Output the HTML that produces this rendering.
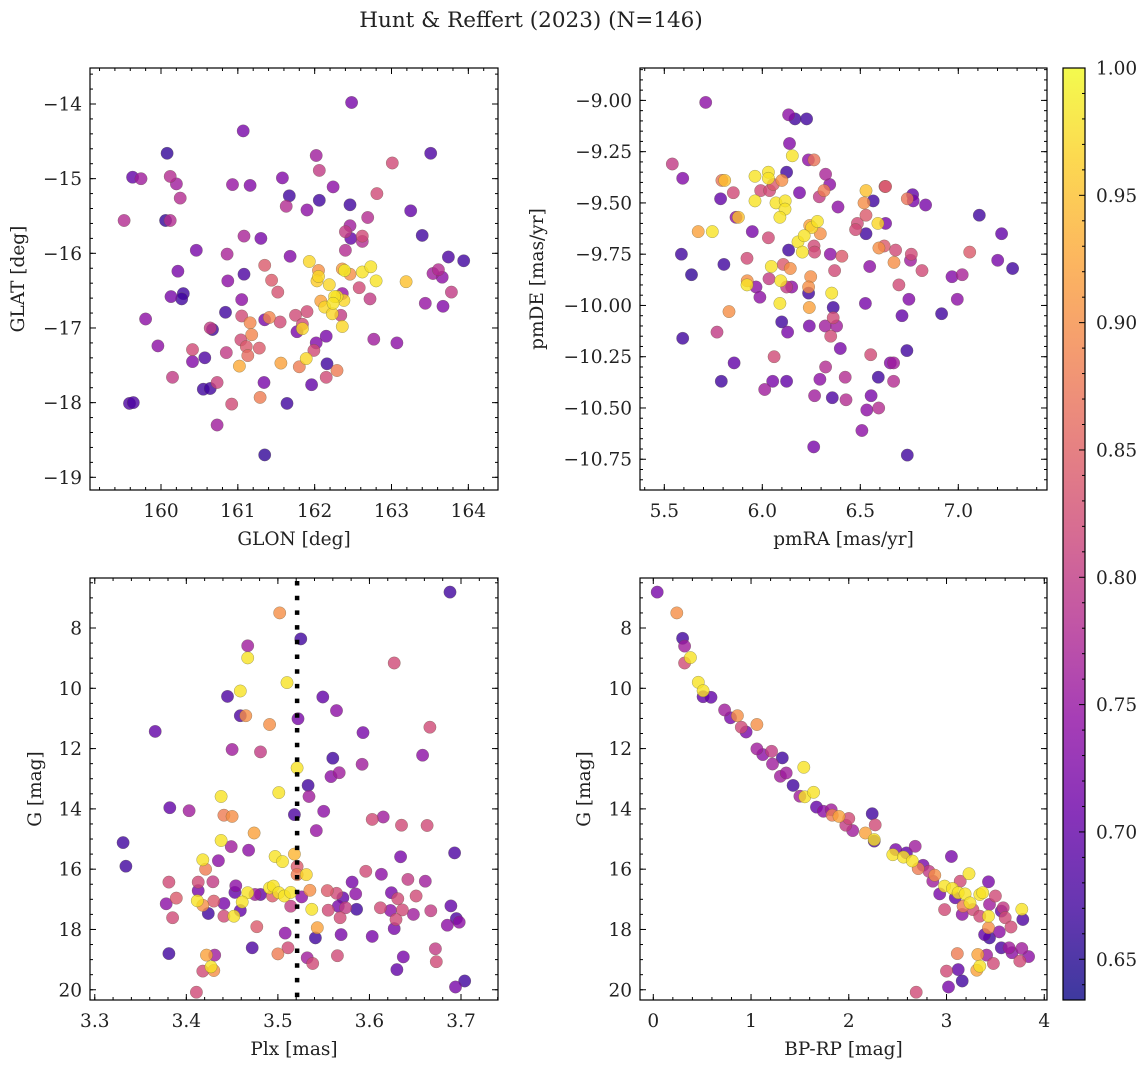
<!DOCTYPE html>
<html><head><meta charset="utf-8"><title>Hunt &amp; Reffert (2023)</title>
<style>
html,body{margin:0;padding:0;background:#fff;}
svg{display:block;font-family:"DejaVu Serif","Liberation Serif",serif;}
</style></head>
<body>
<svg id="fig" width="1148" height="1067" viewBox="0 0 1148 1067" xmlns="http://www.w3.org/2000/svg">
<defs>
<linearGradient id="plasma" x1="0" y1="1" x2="0" y2="0">
<stop offset="0" stop-color="#5302a3"/>
</linearGradient>
</defs>
<text x="531" y="27" font-size="21.5" text-anchor="middle" fill="#222">Hunt &amp; Reffert (2023) (N=146)</text>
</svg>
<script>
// ---------- Panel 1 data: GLON / GLAT ----------
const glon=[162.48,161.07,160.08,163.51,162.02,159.63,159.74,160.12,160.20,160.93,161.16,161.58,162.06,163.01,160.25,161.67,162.06,162.24,162.81,161.63,161.90,162.46,163.25,159.52,160.06,160.12,162.69,162.46,162.40,162.62,162.47,162.62,163.40,161.08,161.30,160.46,160.86,161.68,162.40,163.74,163.94,161.93,161.35,160.22,161.08,162.05,162.05,162.03,162.36,162.39,162.46,162.62,162.73,162.80,163.19,163.54,163.61,163.66,160.87,161.44,162.19,161.52,162.58,163.78,160.13,160.29,160.27,161.05,162.36,162.29,162.26,162.08,162.13,162.24,162.38,162.23,162.34,162.72,163.44,163.67,159.80,160.84,161.05,161.16,161.35,161.41,161.55,161.75,161.90,161.84,161.84,161.77,162.36,160.64,160.67,161.18,161.04,161.11,161.28,161.13,162.02,162.15,161.99,159.96,160.41,160.41,160.57,160.85,161.02,161.56,161.89,161.80,162.16,162.29,162.15,162.77,163.07,160.15,160.55,160.64,160.73,161.34,161.96,159.59,159.64,160.92,161.29,161.64,160.73,161.35];
const glat=[-13.98,-14.36,-14.66,-14.66,-14.69,-14.98,-15.00,-14.97,-15.07,-15.08,-15.09,-14.99,-14.89,-14.79,-15.26,-15.23,-15.29,-15.11,-15.20,-15.37,-15.42,-15.35,-15.43,-15.56,-15.56,-15.56,-15.52,-15.63,-15.71,-15.77,-15.80,-15.84,-15.76,-15.77,-15.80,-15.96,-16.01,-16.04,-15.96,-16.05,-16.10,-16.11,-16.16,-16.24,-16.28,-16.23,-16.31,-16.37,-16.21,-16.23,-16.28,-16.25,-16.18,-16.37,-16.38,-16.27,-16.22,-16.32,-16.37,-16.36,-16.42,-16.52,-16.46,-16.52,-16.58,-16.54,-16.61,-16.62,-16.54,-16.58,-16.58,-16.64,-16.72,-16.67,-16.63,-16.81,-16.83,-16.61,-16.67,-16.71,-16.88,-16.79,-16.84,-16.93,-16.89,-16.86,-16.92,-16.83,-16.78,-16.95,-17.01,-17.05,-16.98,-17.00,-17.02,-17.09,-17.16,-17.25,-17.27,-17.37,-17.20,-17.11,-17.30,-17.24,-17.29,-17.45,-17.40,-17.33,-17.51,-17.47,-17.41,-17.52,-17.48,-17.57,-17.66,-17.15,-17.20,-17.66,-17.82,-17.81,-17.73,-17.73,-17.76,-18.01,-18.00,-18.02,-17.93,-18.01,-18.30,-18.70];
const prob1=[.72,.72,.66,.68,.76,.70,.76,.78,.76,.75,.73,.73,.80,.82,.78,.67,.67,.74,.82,.78,.74,.67,.70,.78,.66,.78,.78,.76,.80,.82,.70,.78,.67,.77,.72,.72,.77,.73,.78,.68,.67,.97,.84,.72,.68,.90,.97,.96,.91,.99,.90,.98,.98,.98,.95,.76,.78,.74,.74,.84,.97,.83,.82,.80,.72,.67,.67,.74,.75,.98,.98,.92,.97,.98,.97,.97,.80,.80,.75,.73,.74,.67,.82,.89,.72,.89,.82,.82,.82,.82,.97,.72,.97,.80,.67,.89,.82,.84,.84,.86,.73,.72,.82,.74,.82,.73,.68,.80,.93,.92,.97,.88,.67,.88,.82,.76,.74,.80,.67,.67,.81,.72,.70,.68,.68,.82,.88,.67,.76,.66];

// ---------- Panel 2 data: pmRA / pmDE ----------
const pmra=[5.711,6.134,6.167,6.226,6.139,6.153,6.235,6.264,5.541,5.594,5.794,5.808,5.852,5.787,5.963,6.031,6.031,6.124,6.100,6.056,5.992,6.037,5.963,6.070,6.117,6.116,6.090,6.190,6.323,6.344,6.315,6.291,6.386,6.529,6.519,6.566,6.629,6.626,6.767,6.770,6.740,6.833,7.107,6.529,6.485,6.476,6.529,6.629,6.590,5.878,5.866,5.673,5.745,5.949,6.031,6.134,6.182,6.214,6.252,6.281,6.242,6.296,6.204,6.264,6.267,6.347,6.406,6.369,6.595,6.622,6.680,6.760,6.756,6.672,6.815,6.548,7.058,7.221,7.201,7.277,6.968,7.020,5.587,5.639,5.804,5.922,6.046,6.107,6.143,6.034,5.923,5.922,5.968,6.094,6.124,6.150,6.247,6.236,6.236,6.354,5.988,6.090,6.240,6.362,6.697,6.748,6.526,6.995,6.915,6.713,5.830,6.099,6.129,6.240,6.321,6.379,6.362,6.349,5.594,5.769,6.398,6.738,6.553,6.060,5.856,6.323,6.653,6.670,5.791,6.053,6.124,6.012,6.294,6.423,6.592,6.670,6.267,6.357,6.427,6.555,6.533,6.594,6.508,6.262,6.740];
const pmde=[-9.01,-9.07,-9.09,-9.09,-9.21,-9.27,-9.29,-9.29,-9.31,-9.38,-9.39,-9.39,-9.45,-9.48,-9.37,-9.35,-9.38,-9.35,-9.39,-9.41,-9.44,-9.44,-9.49,-9.50,-9.49,-9.53,-9.57,-9.45,-9.36,-9.41,-9.44,-9.47,-9.52,-9.44,-9.50,-9.49,-9.42,-9.42,-9.46,-9.49,-9.48,-9.51,-9.56,-9.56,-9.60,-9.63,-9.65,-9.60,-9.60,-9.57,-9.57,-9.64,-9.64,-9.64,-9.67,-9.73,-9.69,-9.66,-9.62,-9.59,-9.61,-9.65,-9.74,-9.71,-9.74,-9.75,-9.76,-9.83,-9.72,-9.71,-9.73,-9.75,-9.78,-9.79,-9.83,-9.81,-9.74,-9.65,-9.78,-9.82,-9.86,-9.85,-9.75,-9.85,-9.80,-9.77,-9.81,-9.80,-9.82,-9.87,-9.88,-9.90,-9.91,-9.88,-9.91,-9.91,-9.86,-9.91,-9.94,-9.94,-9.96,-9.99,-10.01,-10.01,-9.90,-9.97,-9.99,-9.97,-10.04,-10.05,-10.03,-10.08,-10.13,-10.10,-10.10,-10.10,-10.06,-10.15,-10.16,-10.13,-10.21,-10.22,-10.24,-10.25,-10.28,-10.30,-10.28,-10.28,-10.37,-10.37,-10.37,-10.41,-10.36,-10.35,-10.35,-10.37,-10.44,-10.45,-10.46,-10.44,-10.51,-10.50,-10.61,-10.69,-10.73];
const prob2=[.74,.74,.67,.67,.73,.98,.74,.87,.80,.73,.87,.95,.82,.70,.98,.98,.98,.67,.90,.84,.82,.82,.98,.98,.98,.98,.98,.72,.77,.74,.88,.80,.74,.95,.90,.67,.84,.82,.70,.72,.87,.72,.67,.84,.82,.82,.67,.72,.97,.95,.74,.92,.98,.72,.82,.67,.98,.98,.97,.98,.92,.90,.98,.82,.82,.74,.84,.82,.90,.84,.82,.82,.76,.90,.82,.74,.84,.70,.72,.67,.73,.77,.67,.66,.67,.82,.98,.84,.90,.80,.90,.98,.74,.98,.80,.74,.90,.90,.67,.98,.74,.98,.92,.67,.82,.73,.72,.74,.67,.70,.90,.67,.72,.72,.76,.76,.82,.82,.67,.80,.72,.67,.82,.82,.70,.78,.73,.76,.67,.72,.70,.76,.74,.78,.67,.78,.76,.68,.78,.72,.74,.78,.74,.72,.67];

// ---------- Panel 3 data: Plx / G ----------
const plx=[3.688,3.502,3.525,3.467,3.467,3.627,3.510,3.459,3.445,3.549,3.564,3.459,3.465,3.491,3.522,3.366,3.593,3.666,3.450,3.481,3.658,3.560,3.521,3.592,3.558,3.567,3.501,3.533,3.534,3.438,3.382,3.403,3.550,3.441,3.450,3.518,3.603,3.615,3.635,3.663,3.542,3.474,3.331,3.334,3.438,3.449,3.468,3.693,3.634,3.435,3.418,3.421,3.497,3.505,3.518,3.521,3.521,3.531,3.596,3.613,3.642,3.661,3.581,3.381,3.413,3.429,3.454,3.413,3.453,3.467,3.475,3.481,3.491,3.495,3.494,3.501,3.507,3.514,3.526,3.535,3.554,3.564,3.571,3.585,3.624,3.631,3.651,3.378,3.389,3.412,3.418,3.430,3.441,3.461,3.514,3.537,3.555,3.566,3.574,3.586,3.612,3.623,3.636,3.667,3.689,3.385,3.424,3.441,3.452,3.459,3.568,3.629,3.648,3.695,3.698,3.685,3.627,3.477,3.543,3.508,3.541,3.569,3.603,3.381,3.422,3.431,3.472,3.500,3.511,3.532,3.538,3.565,3.637,3.672,3.673,3.418,3.427,3.430,3.630,3.694,3.704,3.411];
const gmag3=[6.81,7.50,8.36,8.59,8.99,9.16,9.81,10.09,10.27,10.29,10.74,10.91,10.91,11.20,11.01,11.43,11.47,11.29,12.03,12.11,12.22,12.32,12.64,12.52,12.93,12.80,13.46,13.22,13.59,13.59,13.96,14.06,14.08,14.21,14.25,14.19,14.35,14.27,14.54,14.55,14.72,14.80,15.12,15.90,15.05,15.25,15.37,15.46,15.59,15.72,15.69,16.00,15.58,15.75,15.50,15.91,16.18,16.18,16.07,16.17,16.34,16.40,16.43,16.43,16.43,16.42,16.55,16.71,16.77,16.78,16.84,16.84,16.62,16.56,16.89,16.78,16.89,16.77,16.92,16.70,16.71,16.80,16.95,16.82,16.78,16.98,16.89,17.15,16.96,17.05,17.20,17.06,17.14,17.09,17.23,17.33,17.36,17.23,17.28,17.33,17.28,17.37,17.35,17.38,17.22,17.61,17.47,17.56,17.56,17.37,17.61,17.67,17.50,17.64,17.76,17.86,17.97,17.91,17.94,18.12,18.28,18.17,18.23,18.80,18.85,18.85,18.61,18.81,18.61,18.94,19.13,18.87,18.91,18.64,19.07,19.38,19.24,19.36,19.33,19.91,19.71,20.08];
const prob3=[.67,.90,.67,.76,.98,.82,.98,.98,.68,.70,.74,.68,.90,.90,.72,.70,.72,.82,.76,.80,.74,.67,.98,.76,.74,.76,.98,.67,.76,.98,.70,.76,.74,.88,.90,.68,.82,.76,.82,.82,.75,.92,.67,.67,.98,.76,.74,.68,.72,.74,.98,.88,.98,.98,.94,.84,.88,.97,.82,.74,.80,.76,.72,.82,.82,.80,.74,.72,.70,.98,.76,.70,.98,.98,.84,.98,.98,.98,.74,.90,.84,.82,.70,.74,.72,.82,.82,.74,.84,.98,.90,.84,.72,.98,.80,.98,.82,.72,.80,.67,.82,.74,.82,.80,.70,.82,.67,.82,.98,.70,.82,.82,.76,.68,.74,.74,.72,.84,.92,.74,.67,.72,.72,.67,.92,.76,.68,.88,.82,.76,.82,.82,.72,.80,.82,.82,.98,.90,.70,.72,.67,.82];
const plxRef=[3.521];

// ---------- Panel 4 data: BP-RP / G ----------
const bprp=[0.04,0.24,0.30,0.32,0.38,0.32,0.46,0.51,0.51,0.59,0.73,0.79,0.86,0.90,0.95,1.06,1.06,1.12,1.21,1.32,1.22,1.30,1.36,1.54,1.43,1.50,1.55,1.64,1.67,1.74,1.82,1.83,1.90,2.00,1.97,2.04,2.17,2.24,2.27,2.26,2.26,2.48,2.68,3.05,2.45,2.56,2.59,2.65,2.76,2.71,2.82,2.88,2.86,2.93,2.98,3.06,3.09,3.14,3.12,3.19,3.23,3.43,3.34,3.37,3.24,3.17,3.27,3.16,2.98,3.43,3.34,3.50,3.44,3.58,3.56,3.60,3.66,3.77,3.78,3.43,3.39,3.44,3.54,3.56,3.64,3.67,3.77,3.75,3.84,3.41,3.32,3.48,3.34,3.31,3.11,3.12,3.00,3.16,3.02,2.69];
const gmag4=[6.81,7.50,8.34,8.60,8.98,9.16,9.80,10.08,10.28,10.30,10.72,10.98,10.91,11.29,11.45,11.20,12.01,12.20,12.09,12.31,12.51,12.92,12.81,12.62,13.22,13.58,13.60,13.45,13.94,14.08,14.03,14.21,14.25,14.32,14.54,14.72,14.80,14.16,14.53,15.07,15.02,15.35,15.24,15.58,15.52,15.60,15.46,15.73,15.87,15.98,16.07,16.20,16.40,16.82,16.56,16.64,16.95,16.40,16.78,16.82,16.15,16.42,16.84,16.78,17.12,17.23,17.34,17.50,17.34,17.56,17.56,16.89,17.17,17.28,17.39,17.61,17.92,17.33,17.67,17.94,18.17,18.28,18.08,18.61,18.61,18.77,18.63,19.05,18.90,18.85,18.83,19.13,19.22,19.35,18.80,19.33,19.38,19.71,19.91,20.08];
const prob4=[.72,.90,.67,.76,.98,.82,.98,.98,.70,.70,.76,.72,.90,.82,.72,.90,.76,.74,.80,.67,.76,.76,.76,.98,.67,.76,.98,.98,.70,.74,.76,.88,.92,.82,.80,.76,.92,.67,.82,.68,.98,.72,.76,.72,.98,.98,.70,.98,.72,.88,.80,.90,.76,.72,.98,.98,.70,.82,.98,.98,.98,.72,.98,.98,.98,.88,.82,.74,.82,.98,.82,.82,.76,.80,.70,.82,.82,.98,.68,.90,.70,.67,.74,.68,.76,.74,.76,.82,.74,.76,.92,.82,.98,.92,.88,.70,.82,.67,.72,.82];

// ---------- tick arrays ----------
const p1xTicks=[160,161,162,163,164];
const p1yTicks=[-14,-15,-16,-17,-18,-19];
const p2xTicks=[5.5,6.0,6.5,7.0];
const p2yTicks=[-9.00,-9.25,-9.50,-9.75,-10.00,-10.25,-10.50,-10.75];
const p3xTicks=[3.3,3.4,3.5,3.6,3.7];
const gTicks=[8,10,12,14,16,18,20];
const p4xTicks=[0,1,2,3,4];
const cbTicks=[0.65,0.70,0.75,0.80,0.85,0.90,0.95,1.00];

const VMIN=0.634, VMAX=1.0;
const TICKFS=18.5, LABELFS=18.5;
const PLASMA=[[13,8,135],[65,4,157],[106,0,168],[143,13,164],[177,42,144],[204,71,120],[225,100,98],[242,132,75],[252,166,54],[252,206,37],[240,249,33]];
function plasma(p){
  let t=(p-VMIN)/(VMAX-VMIN); t=Math.max(0,Math.min(1,t));
  const f=t*10, i=Math.min(9,Math.floor(f)), r=f-i;
  const a=PLASMA[i], b=PLASMA[i+1];
  return 'rgb('+a.map((v,k)=>Math.round(v+(b[k]-v)*r)).join(',')+')';
}
const NS='http://www.w3.org/2000/svg';
const svg=document.getElementById('fig');
function mk(tag,attrs,parent){
  const e=document.createElementNS(NS,tag);
  for(const k in attrs) e.setAttribute(k,attrs[k]);
  (parent||svg).appendChild(e); return e;
}
function fmt(v,d){ const s=Math.abs(v).toFixed(d); return (v<0?'\u2212':'')+s; }

function panel(cfg){
  const g=mk('g',{});
  
  
  const L=cfg.box[0],T=cfg.box[1],R=cfg.box[2],B=cfg.box[3];
  const sx=v=>L+(v-cfg.xd[0])/(cfg.xd[1]-cfg.xd[0])*(R-L);
  const sy=cfg.yinv ? (v=>T+(v-cfg.yd[0])/(cfg.yd[1]-cfg.yd[0])*(B-T))
                    : (v=>B-(v-cfg.yd[0])/(cfg.yd[1]-cfg.yd[0])*(B-T));
  const clip='c'+cfg.name;
  const cp=mk('clipPath',{id:clip},g); mk('rect',{x:L,y:T,width:R-L,height:B-T},cp);
  const idx=cfg.xs.map((_,i)=>i).sort((a,b)=>cfg.ps[a]-cfg.ps[b]);
  const pg=mk('g',{'clip-path':'url(#'+clip+')'},g);
  for(const i of idx){
    const c=mk('circle',{cx:sx(cfg.xs[i]).toFixed(1),cy:sy(cfg.ys[i]).toFixed(1),r:6.2,fill:plasma(cfg.ps[i]),'fill-opacity':0.8,stroke:'rgba(90,90,60,0.55)','stroke-width':0.5},pg);
    
    
  }
  if(cfg.vline){
    for(const v of cfg.vline){
      const ln=mk('line',{x1:sx(v),x2:sx(v),y1:T+3,y2:B,stroke:'#000','stroke-width':4.5,'stroke-dasharray':'4.5 10.2'},g);
      
      
    }
  }
  const tk=mk('g',{stroke:'#000','stroke-width':1},g);
  function minor(d0,d1,step,fn){ const s=Math.ceil(d0/step-1e-6); for(let k=s;k*step<=d1+1e-9;k++) fn(k*step); }
  minor(Math.min(...cfg.xd),Math.max(...cfg.xd),cfg.xminor,v=>{const x=sx(v);mk('line',{x1:x,x2:x,y1:B,y2:B-3},tk);mk('line',{x1:x,x2:x,y1:T,y2:T+3},tk);});
  minor(Math.min(...cfg.yd),Math.max(...cfg.yd),cfg.yminor,v=>{const y=sy(v);mk('line',{x1:L,x2:L+3,y1:y,y2:y},tk);mk('line',{x1:R,x2:R-3,y1:y,y2:y},tk);});
  for(const v of cfg.xt){const x=sx(v);mk('line',{x1:x,x2:x,y1:B,y2:B-6},tk);mk('line',{x1:x,x2:x,y1:T,y2:T+6},tk);
    const t=mk('text',{x:x,y:B+27,'font-size':TICKFS,'text-anchor':'middle',fill:'#222'},g); t.textContent=fmt(v,cfg.xdec);
     }
  for(const v of cfg.yt){const y=sy(v);mk('line',{x1:L,x2:L+6,y1:y,y2:y},tk);mk('line',{x1:R,x2:R-6,y1:y,y2:y},tk);
    const t=mk('text',{x:L-8,y:y+6.5,'font-size':TICKFS,'text-anchor':'end',fill:'#222'},g); t.textContent=fmt(v,cfg.ydec);
     }
  const fr=mk('rect',{x:L,y:T,width:R-L,height:B-T,fill:'none',stroke:'#000','stroke-width':1.2},g);
   
  const xl=mk('text',{x:(L+R)/2,y:B+55,'font-size':LABELFS,'text-anchor':'middle',fill:'#222'},g); xl.textContent=cfg.xlabel;
   
  const yl=mk('text',{x:cfg.ylx,y:(T+B)/2,'font-size':LABELFS,'text-anchor':'middle',fill:'#222',transform:'rotate(-90 '+cfg.ylx+' '+((T+B)/2)+')'},g); yl.textContent=cfg.ylabel;
   
}

panel({name:'glon-glat-panel',box:[90,68,498,490],xd:[159.076,164.386],yd:[-19.17,-13.518],xs:glon,ys:glat,ps:prob1,xt:p1xTicks,yt:p1yTicks,xminor:0.2,yminor:0.2,xdec:0,ydec:0,xlabel:'GLON [deg]',ylabel:'GLAT [deg]',ylx:24});
panel({name:'proper-motion-panel',box:[640,68,1047,490],xd:[5.376,7.4526],yd:[-10.90,-8.842],xs:pmra,ys:pmde,ps:prob2,xt:p2xTicks,yt:p2yTicks,xminor:0.1,yminor:0.05,xdec:1,ydec:2,xlabel:'pmRA [mas/yr]',ylabel:'pmDE [mas/yr]',ylx:543});
panel({name:'parallax-magnitude-panel',box:[90,578,498,1000],xd:[3.2948,3.7404],yd:[6.341,20.34],yinv:true,xs:plx,ys:gmag3,ps:prob3,xt:p3xTicks,yt:gTicks,xminor:0.02,yminor:0.5,xdec:1,ydec:0,xlabel:'Plx [mas]',ylabel:'G [mag]',ylx:41,vline:plxRef});
panel({name:'color-magnitude-panel',box:[640,578,1047,1000],xd:[-0.136,4.028],yd:[6.341,20.34],yinv:true,xs:bprp,ys:gmag4,ps:prob4,xt:p4xTicks,yt:gTicks,xminor:0.2,yminor:0.5,xdec:0,ydec:0,xlabel:'BP-RP [mag]',ylabel:'G [mag]',ylx:590});

// ---------- colorbar ----------
(function(){
  const L=1063,R=1085,T=68,B=1000;
  const sy=v=>B-(v-VMIN)/(VMAX-VMIN)*(B-T);
  const grad=document.getElementById('plasma'); grad.innerHTML='';
  for(let k=0;k<=20;k++){const v=VMIN+(VMAX-VMIN)*k/20; mk('stop',{offset:k/20,'stop-color':plasma(v)},grad);}
  const cb=mk('g',{});
  
  
  mk('rect',{x:L,y:T,width:R-L,height:B-T,fill:'url(#plasma)','fill-opacity':0.8},cb);
  mk('rect',{x:L,y:T,width:R-L,height:B-T,fill:'none',stroke:'#000','stroke-width':1.2},cb);
  for(let k=Math.ceil(VMIN*100);k<=100;k++){const y=sy(k/100);const maj=(k%5===0);
    mk('line',{x1:R,x2:R-(maj?6:3),y1:y,y2:y,stroke:'#000','stroke-width':1},cb);}
  for(const v of cbTicks){const t=mk('text',{x:R+11,y:sy(v)+6.5,'font-size':TICKFS,fill:'#222'},cb); t.textContent=v.toFixed(2);
     }
})();
</script>
</body></html>
